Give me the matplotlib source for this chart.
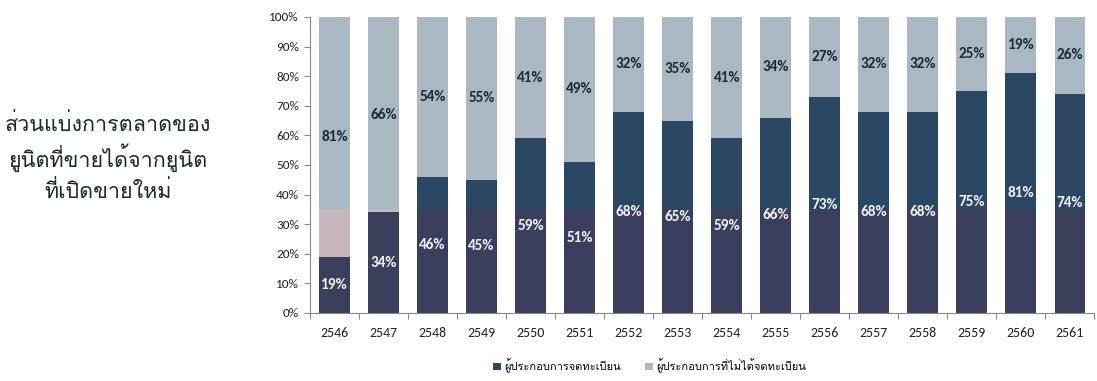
import matplotlib
matplotlib.use("Agg")
import matplotlib.pyplot as plt
from matplotlib.patches import Patch
import numpy as np

years = ["2546", "2547", "2548", "2549", "2550", "2551", "2552", "2553",
         "2554", "2555", "2556", "2557", "2558", "2559", "2560", "2561"]
registered = [19, 34, 46, 45, 59, 51, 68, 65, 59, 66, 73, 68, 68, 75, 81, 74]
unregistered = [81, 66, 54, 55, 41, 49, 32, 35, 41, 34, 27, 32, 32, 25, 19, 26]
series_names = ["ผู้ประกอบการจดทะเบียน", "ผู้ประกอบการที่ไม่ได้จดทะเบียน"]
title_lines = ["ส่วนแบ่งการตลาดของ", "ยูนิตที่ขายได้จากยูนิต", "ที่เปิดขายใหม่"]
yticks = [0, 10, 20, 30, 40, 50, 60, 70, 80, 90, 100]

num_font = ["Carlito", "Lato", "DejaVu Sans"]
thai_font = ["Loma", "Noto Sans Thai Looped", "DejaVu Sans"]

dark_top = "#2c4764"
dark_low = "#3a3f5e"
light_top = "#aab8c1"
light_low = "#c6b6be"
scan_band = 35  # scanner tint on lower part of bars

fig = plt.figure(figsize=(10.97, 3.81), dpi=100)
ax = fig.add_axes([0.2826, 0.1785, 0.7151, 0.777])

x = np.arange(len(years))
reg = np.array(registered, dtype=float)
unr = np.array(unregistered, dtype=float)
w = 0.63

low_reg = np.minimum(reg, scan_band)
ax.bar(x, low_reg, w, color=dark_low, linewidth=0)
ax.bar(x, reg - low_reg, w, bottom=low_reg, color=dark_top, linewidth=0)
low_unr = np.clip(scan_band - reg, 0, None)
ax.bar(x, low_unr, w, bottom=reg, color=light_low, linewidth=0)
ax.bar(x, unr - low_unr, w, bottom=reg + low_unr, color=light_top, linewidth=0)

for xi, r, u in zip(x, reg, unr):
    ax.text(xi, r / 2, f"{int(r)}%", ha="center", va="center", color="#f2f2f2",
            fontsize=11, fontweight="bold", family=num_font)
    ax.text(xi, r + u / 2, f"{int(u)}%", ha="center", va="center", color="#1e2a38",
            fontsize=11, fontweight="bold", family=num_font)

ax.set_xlim(-0.5, len(years) - 0.5)
ax.set_ylim(0, 100)
ax.set_yticks(yticks)
ax.set_yticklabels([f"{t}%" for t in yticks], family=num_font, fontsize=9.5, color="#222222")
ax.set_xticks(x)
ax.set_xticklabels(years, family=num_font, fontsize=10, color="#222222")
ax.set_xticks(np.arange(len(years) + 1) - 0.5, minor=True)
ax.tick_params(axis="x", which="major", length=0, pad=10)
ax.tick_params(axis="x", which="minor", length=4, color="#888888", width=0.8)
ax.tick_params(axis="y", length=4, color="#888888", width=0.8, pad=4)
for s in ["top", "right"]:
    ax.spines[s].set_visible(False)
for s in ["left", "bottom"]:
    ax.spines[s].set_color("#888888")
    ax.spines[s].set_linewidth(0.8)

handles = [Patch(facecolor=dark_top, edgecolor="none"),
           Patch(facecolor=light_top, edgecolor="none")]
fig.legend(handles, series_names, loc="center", bbox_to_anchor=(0.592, 0.04),
           ncol=2, frameon=False, prop={"family": thai_font, "size": 8},
           handlelength=0.7, handleheight=0.7, handletextpad=0.3, columnspacing=2.2)

ys = [1 - 125 / 381, 1 - 158 / 381, 1 - 192 / 381]
for line, yy in zip(title_lines, ys):
    fig.text(108 / 1097, yy, line, ha="center", va="center", fontsize=15.5,
             family=thai_font, color="#1b2a2a")

fig.savefig("out.png", dpi=100)
